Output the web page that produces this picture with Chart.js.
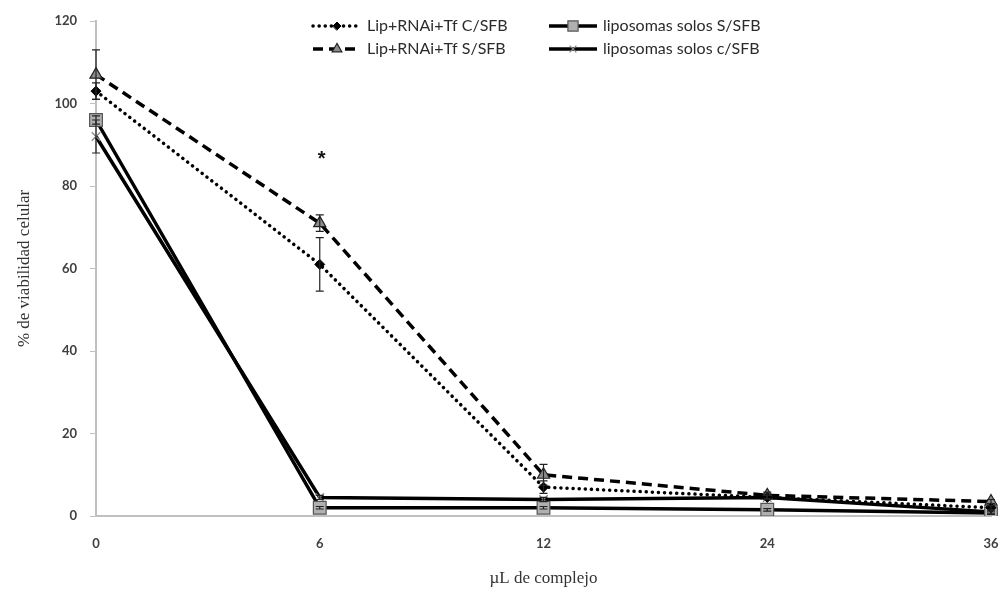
<!DOCTYPE html>
<html>
<head>
<meta charset="utf-8">
<script src="https://cdn.jsdelivr.net/npm/chart.js@4.4.0/dist/chart.umd.min.js"></script>
<style>
html,body{margin:0;padding:0;background:#fff;overflow:hidden}
#contenedor{width:1005px;height:597px}
</style>
</head>
<body>
<div id="contenedor"><canvas id="graf_viabilidad"></canvas></div>
<script>
// µL de complejo
const dosis = ['0','6','12','24','36'];
const ticks_y = [0, 20, 40, 60, 80, 100, 120];

// % de viabilidad celular
const lip_rnai_tf_con_sfb = [103, 61, 7, 4.5, 2];
const lipos_sin_sfb = [96, 2, 2, 1.5, 0.7];
const lip_rnai_tf_sin_sfb = [107, 71, 10, 5, 3.5];
const lipos_con_sfb = [92, 4.5, 4, 4.5, 1];

// error estandar
const err_lip_con = [2, 6.5, 1.5, 0.5, 0.5];
const err_lipos_sin = [1, 0.3, 0.3, 0.3, 0.3];
const err_lip_sin = [6, 2, 2.5, 0.8, 0.5];
const err_lipos_con = [4, 0.5, 0.5, 0.5, 0.5];

const errores = [err_lip_con, err_lipos_sin, err_lip_sin, err_lipos_con];

// barras de error
const barras_error = {
  id: 'barras_error',
  afterDatasetsDraw(chart) {
    const ctx = chart.ctx;
    const y = chart.scales.y;
    ctx.save();
    ctx.strokeStyle = '#222';
    ctx.lineWidth = 1.2;
    chart.data.datasets.forEach((ds, i) => {
      const meta = chart.getDatasetMeta(i);
      meta.data.forEach((p, j) => {
        const e = errores[i][j];
        if (!e) return;
        const y1 = y.getPixelForValue(ds.data[j] + e);
        const y2 = y.getPixelForValue(ds.data[j] - e);
        ctx.beginPath();
        ctx.moveTo(p.x, y1); ctx.lineTo(p.x, y2);
        ctx.moveTo(p.x - 4, y1); ctx.lineTo(p.x + 4, y1);
        ctx.moveTo(p.x - 4, y2); ctx.lineTo(p.x + 4, y2);
        ctx.stroke();
      });
    });
    // asterisco de significancia
    const x6 = chart.getDatasetMeta(0).data[1].x;
    ctx.fillStyle = '#111';
    ctx.font = 'bold 20px "Liberation Sans"';
    ctx.textAlign = 'center';
    ctx.textBaseline = 'middle';
    ctx.fillText('*', x6 + 2, y.getPixelForValue(86.5));
    ctx.restore();
  }
};

// leyenda dentro del grafico
const leyenda = {
  id: 'leyenda',
  afterDraw(chart) {
    const ctx = chart.ctx;
    const pos = [[313, 26], [549, 26], [313, 49], [549, 49]];
    chart.data.datasets.forEach((ds, i) => {
      const [x, y] = pos[i];
      ctx.save();
      ctx.strokeStyle = ds.borderColor;
      ctx.lineWidth = ds.borderWidth;
      ctx.lineCap = ds.borderCapStyle || 'butt';
      ctx.setLineDash(ds.borderDash || []);
      ctx.beginPath();
      ctx.moveTo(x, y); ctx.lineTo(x + 48, y);
      ctx.stroke();
      ctx.setLineDash([]);
      ctx.fillStyle = ds.pointBackgroundColor;
      ctx.strokeStyle = ds.pointBorderColor;
      ctx.lineWidth = ds.pointBorderWidth;
      Chart.helpers.drawPoint(ctx, {pointStyle: ds.pointStyle, radius: ds.pointRadius * 0.8, borderWidth: ds.pointBorderWidth, rotation: 0}, x + 24, y);
      ctx.fillStyle = '#2b2b2b';
      ctx.font = '16px Lato';
      ctx.textBaseline = 'middle';
      ctx.fillText(ds.label, x + 54, y);
      ctx.restore();
    });
  }
};

const ctx_viab = document.getElementById('graf_viabilidad').getContext('2d');
const graf_viabilidad = new Chart(ctx_viab, {
  type: 'line',
  data: {
    labels: dosis,
    datasets: [{
      label: 'Lip+RNAi+Tf C/SFB',
      data: lip_rnai_tf_con_sfb,
      borderColor: '#000',
      borderWidth: 3.5,
      borderDash: [0.1, 6],
      borderCapStyle: 'round',
      pointStyle: 'rectRot',
      pointRadius: 5,
      pointBackgroundColor: '#000',
      pointBorderColor: '#000',
      pointBorderWidth: 1
    }, {
      label: 'liposomas solos S/SFB',
      data: lipos_sin_sfb,
      borderColor: '#000',
      borderWidth: 3.5,
      pointStyle: 'rect',
      pointRadius: 9,
      pointBackgroundColor: '#b0b0b0',
      pointBorderColor: '#555',
      pointBorderWidth: 1.2
    }, {
      label: 'Lip+RNAi+Tf S/SFB',
      data: lip_rnai_tf_sin_sfb,
      borderColor: '#000',
      borderWidth: 3.5,
      borderDash: [10, 6],
      pointStyle: 'triangle',
      pointRadius: 7,
      pointBackgroundColor: '#8c8c8c',
      pointBorderColor: '#222',
      pointBorderWidth: 1.2
    }, {
      label: 'liposomas solos c/SFB',
      data: lipos_con_sfb,
      borderColor: '#000',
      borderWidth: 3.5,
      pointStyle: 'crossRot',
      pointRadius: 6,
      pointBackgroundColor: '#888',
      pointBorderColor: '#888',
      pointBorderWidth: 1.3
    }]
  },
  options: {
    responsive: true,
    maintainAspectRatio: false,
    animation: false,
    layout: {padding: {top: 21, right: 14, left: 0, bottom: 0}},
    plugins: {
      legend: {display: false},
      tooltip: {enabled: false}
    },
    elements: {line: {tension: 0, fill: false}},
    scales: {
      x: {
        offset: false,
        grid: {drawOnChartArea: false, drawTicks: false},
        border: {color: '#c0c0c0', width: 2},
        ticks: {padding: 20, maxRotation: 0, color: '#404040', font: {family: 'Lato', size: 13, weight: 'bold'}},
        title: {display: true, text: 'µL de complejo', color: '#333', font: {family: 'Liberation Serif', size: 17}, padding: {top: 0, bottom: 8}},
        afterFit(s) { s.height = 81; s.paddingLeft = 0; s.paddingRight = 0; }
      },
      y: {
        min: 0,
        max: 120,
        afterBuildTicks(s) { s.ticks = ticks_y.map(v => ({value: v})); },
        grid: {drawOnChartArea: false, tickLength: 6, color: '#c0c0c0'},
        border: {color: '#c0c0c0', width: 2},
        ticks: {padding: 13, color: '#404040', font: {family: 'Lato', size: 13, weight: 'bold'}},
        title: {display: true, text: '% de viabilidad celular', color: '#333', font: {family: 'Liberation Serif', size: 17}, padding: {top: 14, bottom: 0}},
        afterFit(s) { s.width = 96; }
      }
    }
  },
  plugins: [barras_error, leyenda]
});
</script>
</body>
</html>
